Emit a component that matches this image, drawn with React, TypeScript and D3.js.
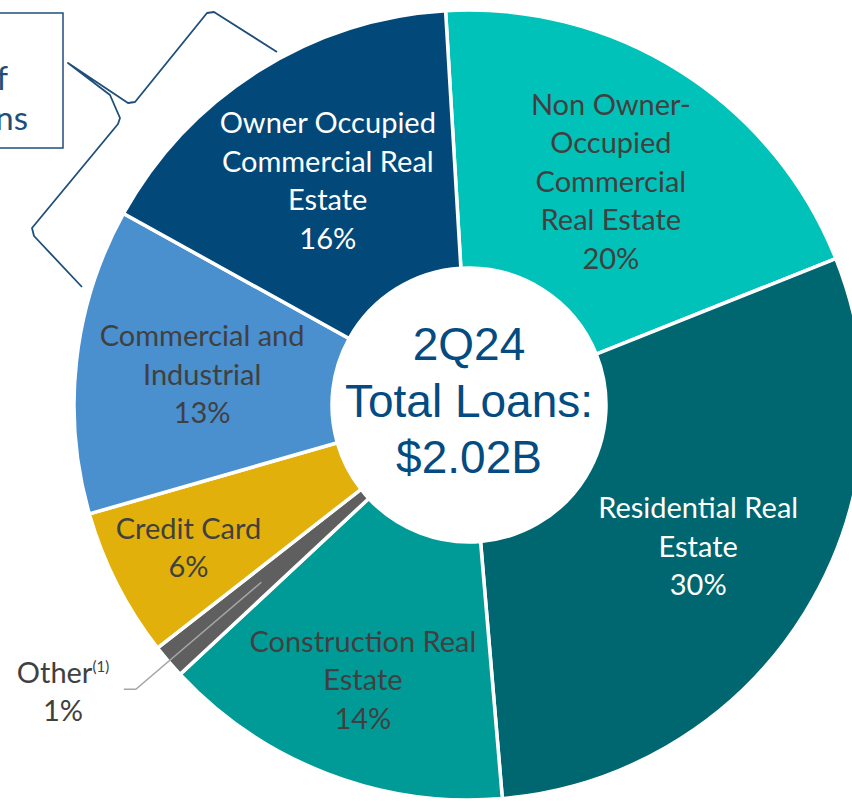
import React from "react";
import * as d3 from "d3";

// loan mix, clockwise from the top
const categories = [
  "Non Owner-Occupied Commercial Real Estate",
  "Residential Real Estate",
  "Construction Real Estate",
  "Other",
  "Credit Card",
  "Commercial and Industrial",
  "Owner Occupied Commercial Real Estate",
];
// estimated shares (%); labels show them rounded
const shares = [19.9, 29.7, 14.4, 1.4, 6.1, 12.5, 16.0];
const labelLines = [
  ["Non Owner-", "Occupied", "Commercial", "Real Estate"],
  ["Residential Real", "Estate"],
  ["Construction Real", "Estate"],
  ["Other"],
  ["Credit Card"],
  ["Commercial and", "Industrial"],
  ["Owner Occupied", "Commercial Real", "Estate"],
];
const colors = ["#00c2b9", "#006670", "#009b97", "#5f5f5f", "#e1b00b", "#4a8fce", "#02497a"];
const textColors = ["#404040", "#ffffff", "#404040", "#404040", "#404040", "#404040", "#ffffff"];
const centerTitle = ["2Q24", "Total Loans:", "$2.02B"];
const calloutLines = ["36% of", "Total Loans"];

const W = 852;
const H = 801;
const cx = 469;
const cy = 405;
const outerR = 395;
const innerR = 137;
const labelFont = "Lato, 'Open Sans', sans-serif";
const labelSize = 29;

// how far out each label sits (fraction of outer radius)
const labelRadius = [0.67, 0.682, 0.747, 0, 0.797, 0.68, 0.671];

export default function App() {
  const start = (-3.4 * Math.PI) / 180;
  const pie = d3
    .pie<number>()
    .sort(null)
    .startAngle(start)
    .endAngle(start + 2 * Math.PI);
  const arcs = pie(shares);

  const arcGen = d3.arc<d3.PieArcDatum<number>>().innerRadius(innerR).outerRadius(outerR);

  const lineH = 38.5;

  // leader line for "Other"
  const other = arcs[3];
  const otherMid = (other.startAngle + other.endAngle) / 2;
  const p0: [number, number] = [273 * Math.sin(otherMid), -273 * Math.cos(otherMid)];
  const p1: [number, number] = [438 * Math.sin(otherMid), -438 * Math.cos(otherMid)];
  const p2: [number, number] = [p1[0] - 12, p1[1]];
  const leader = d3.line()([p0, p1, p2]);

  // curly brace next to the callout box
  const brace = d3.line().curve(d3.curveLinear)([
    [277, 52], [214, 12], [207, 13], [135, 102], [128, 103], [68, 63],
    [110, 95], [120, 118], [118, 124], [32, 228], [34, 236], [82, 287],
  ]);

  return (
    <div>
      <style>{`body{margin:0}`}</style>
      <svg width={W} height={H} style={{ display: "block" }}>
        <g transform={`translate(${cx},${cy})`}>
          {arcs.map((a, i) => (
            <path key={categories[i]} d={arcGen(a) ?? ""} fill={colors[i]} stroke="#fff" strokeWidth={3.5} />
          ))}
          <path d={leader ?? ""} fill="none" stroke="#a6a6a6" strokeWidth={1.5} />
          {arcs.map((a, i) => {
            if (i === 3) return null;
            const mid = (a.startAngle + a.endAngle) / 2;
            const r = outerR * labelRadius[i];
            const x = r * Math.sin(mid);
            const y = -r * Math.cos(mid);
            const lines = [...labelLines[i], `${Math.round(shares[i])}%`];
            const top = y - ((lines.length - 1) * lineH) / 2;
            return (
              <text
                key={categories[i]}
                textAnchor="middle"
                fontFamily={labelFont}
                fontSize={labelSize}
                fill={textColors[i]}
              >
                {lines.map((l, j) => (
                  <tspan key={j} x={x} y={top + j * lineH} dy="0.35em">
                    {l}
                  </tspan>
                ))}
              </text>
            );
          })}
          {centerTitle.map((t, j) => (
            <text
              key={t}
              x={0}
              y={-45 + j * 56.5}
              textAnchor="middle"
              fontFamily="'Liberation Sans', Arial, sans-serif"
              fontSize={46}
              fill="#034b80"
            >
              {t}
            </text>
          ))}
        </g>

        {/* Other label outside the pie */}
        <text x={63} y={683} textAnchor="middle" fontFamily={labelFont} fontSize={labelSize} fill="#404040">
          {labelLines[3][0]}
          <tspan fontSize={15} dy={-11}>(1)</tspan>
        </text>
        <text x={63} y={721} textAnchor="middle" fontFamily={labelFont} fontSize={labelSize} fill="#404040">
          {`${Math.round(shares[3])}%`}
        </text>

        {/* callout box, cut off at the left edge */}
        <rect x={-2} y={13} width={65} height={135} fill="none" stroke="#1f4e79" strokeWidth={1.5} />
        <text x={8} y={90} textAnchor="end" fontFamily={labelFont} fontSize={33} fill="#1f4e79">
          {calloutLines[0]}
        </text>
        <text x={28} y={130} textAnchor="end" fontFamily={labelFont} fontSize={33} fill="#1f4e79">
          {calloutLines[1]}
        </text>
        <path d={brace ?? ""} fill="none" stroke="#1f4e79" strokeWidth={1.8} strokeLinejoin="round" />
      </svg>
    </div>
  );
}
